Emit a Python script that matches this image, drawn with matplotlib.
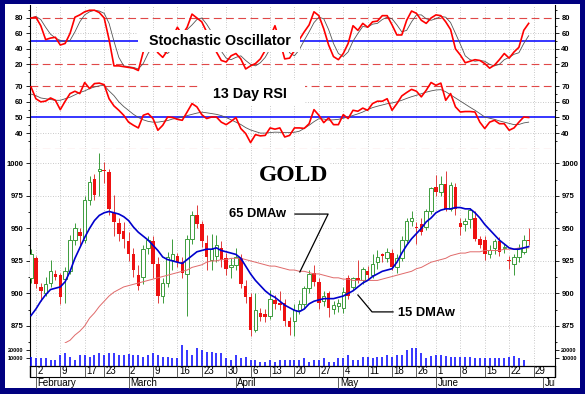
import numpy as np
import pandas as pd
import matplotlib
matplotlib.use("Agg")
import matplotlib.pyplot as plt
from matplotlib.patches import Rectangle

plt.rcParams['font.family'] = ['Liberation Sans', 'DejaVu Sans']

# trading calendar (COMEX 2009)
holidays = ['2009-02-16', '2009-04-10', '2009-05-25']
days = pd.bdate_range('2009-01-30', '2009-07-02')
days = days[~days.isin(pd.to_datetime(holidays))]

# daily gold candles, Jan 30 - Jun 26
opens = [912, 927, 905, 900, 908, 915, 914, 911, 917, 941,
         947, 941, 972, 988, 994, 995, 993, 962, 954, 948,
         940, 930, 914, 913, 935, 940, 923, 898, 908, 926,
         929, 924, 915, 942, 960, 953, 939, 926, 929, 935,
         927, 920, 922, 927, 906, 897, 872, 885, 884, 883,
         895, 893, 893, 879, 879, 887, 892, 904, 916, 909,
         894, 900, 888, 890, 889, 912, 905, 912, 910, 917,
         914, 924, 930, 927, 931, 920, 927, 941, 956, 951,
         953, 951, 963, 982, 978, 984, 965, 982, 954, 953,
         957, 958, 942, 941, 930, 935, 940, 935, 926, 923,
         928, 932, 941]
highs = [934, 929, 908, 913, 926, 918, 916, 920, 945, 954,
         950, 975, 990, 992, 1008, 1001, 996, 976, 958, 955,
         947, 935, 922, 937, 944, 944, 928, 912, 932, 942,
         931, 928, 945, 963, 968, 956, 945, 946, 945, 940,
         931, 927, 935, 930, 910, 900, 900, 889, 888, 903,
         899, 902, 896, 882, 892, 895, 906, 918, 922, 912,
         902, 902, 894, 896, 905, 914, 913, 926, 920, 921,
         930, 933, 931, 935, 934, 930, 944, 958, 963, 955,
         958, 965, 982, 991, 990, 994, 986, 985, 958, 958,
         966, 963, 944, 944, 937, 942, 943, 938, 929, 930,
         938, 945, 950]
lows = [908, 904, 894, 898, 905, 910, 892, 893, 915, 937,
        937, 939, 968, 972, 975, 985, 960, 944, 940, 935,
        925, 913, 903, 907, 930, 912, 893, 893, 905, 918,
        920, 912, 883, 938, 950, 936, 918, 918, 924, 920,
        914, 912, 918, 904, 893, 867, 870, 879, 878, 880,
        888, 887, 875, 868, 867, 884, 889, 900, 906, 888,
        890, 882, 884, 886, 885, 896, 903, 908, 907, 911,
        912, 919, 924, 924, 918, 916, 925, 939, 952, 938,
        945, 949, 961, 975, 975, 963, 963, 960, 945, 948,
        950, 940, 935, 926, 927, 930, 929, 931, 919, 914,
        924, 930, 937]
closes = [930, 907, 902, 907, 917, 913, 897, 917, 941, 950,
          944, 972, 986, 976, 996, 994, 965, 955, 946, 942,
          930, 918, 906, 934, 941, 923, 898, 908, 928, 930,
          924, 916, 942, 960, 953, 940, 928, 934, 937, 926,
          919, 922, 928, 907, 897, 872, 887, 882, 882, 896,
          892, 891, 879, 874, 887, 892, 904, 915, 909, 893,
          898, 889, 891, 893, 901, 898, 912, 910, 919, 914,
          923, 928, 929, 932, 920, 927, 941, 956, 958, 950,
          947, 963, 981, 978, 984, 965, 983, 965, 951, 956,
          964, 942, 937, 930, 933, 940, 932, 936, 925, 928,
          935, 941, 940]
volume = [11.6, 9.5, 9.5, 9.5, 7.2, 7.2, 13.8, 16, 11.6, 7.2,
          13.8, 13.8, 11.6, 13.8, 16, 13.8, 16, 16, 13.8, 13.8,
          14.7, 13.8, 13.8, 11.6, 13.8, 16, 13.8, 11.6, 11.6, 9.5,
          9.5, 27, 20.4, 13.8, 22.6, 20.4, 18.2, 18.2, 16, 16,
          9.5, 7.2, 13.8, 9.5, 11.6, 7.2, 7.2, 5, 5, 7.2,
          5, 7.2, 7.2, 7.2, 7.2, 7.2, 9.5, 5, 7.2, 7.2,
          9.5, 5, 5, 9.5, 9.5, 13.8, 7.2, 7.2, 11.6, 11.6,
          9.5, 11.6, 11.6, 13.8, 11.6, 13.8, 13.8, 20.4, 23.4, 23.4,
          16, 9.5, 12.9, 13.8, 13.8, 12.9, 11.6, 11.6, 11.6, 11.6,
          11.6, 9.5, 9.5, 9.5, 10.3, 9.5, 10.3, 9.5, 11, 12.9,
          9.5, 7.2, 0]  # thousands of contracts

dma15 = [883, 888, 894, 899, 903, 904, 905, 909, 917, 927,
         935, 943, 950, 956, 960, 962, 963, 962, 961, 959,
         956, 951, 947, 944, 941, 937, 933, 928, 926, 925,
         924, 923, 926, 929, 932, 933, 934, 934, 935, 933,
         932, 931, 930, 927, 921, 915, 910, 906, 902, 899,
         897, 894, 891, 889, 887, 886, 888, 892, 894, 895,
         896, 896, 896, 897, 898, 900, 902, 905, 908, 910,
         913, 915, 917, 918, 919, 924, 931, 937, 942, 946,
         950, 955, 958, 962, 964, 965, 965, 966, 966, 965,
         965, 962, 958, 953, 949, 945, 941, 938, 935, 934,
         934, 935, 936]
dma65 = [np.nan] * 7 + [
         862, 864, 868,
         871, 875, 881, 885, 890, 894, 898, 901, 903, 905,
         906, 907, 908, 909, 910, 911, 912, 913, 914, 915,
         916, 917, 918, 920, 921, 922, 924, 925, 925, 926,
         926, 927, 927, 927, 926, 925, 924, 923, 922, 921,
         921, 920, 919, 918, 918, 917, 917, 916, 915, 915,
         914, 913, 912, 912, 911, 911, 910, 910, 910, 910,
         910, 910, 911, 912, 913, 914, 915, 916, 917, 919,
         920, 922, 924, 925, 926, 927, 929, 930, 931, 931,
         932, 932, 932, 933, 933, 933, 933, 934, 934, 934,
         935, 935, 935]

stoch_k = [80, 81, 70, 52, 54, 55, 45, 47, 60, 81,
           84, 88, 90, 90, 87, 80, 52, 18, 18, 17,
           16, 15, 12, 36, 52, 45, 35, 29, 38, 55,
           68, 58, 68, 85, 80, 75, 62, 50, 36, 25,
           23, 31, 34, 27, 14, 18, 21, 27, 38, 55,
           70, 50, 27, 28, 38, 52, 62, 71, 88, 83,
           66, 45, 30, 26, 34, 47, 70, 64, 73, 68,
           75, 76, 83, 83, 71, 58, 58, 77, 89, 86,
           77, 73, 80, 84, 83, 75, 65, 40, 32, 22,
           24, 26, 25, 21, 15, 19, 26, 34, 28, 36,
           42, 64, 73]
stoch_d = [80, 82, 78, 68, 59, 54, 51, 49, 51, 62,
           75, 84, 88, 90, 89, 86, 73, 50, 29, 18,
           17, 16, 14, 21, 34, 44, 44, 37, 34, 40,
           54, 60, 65, 71, 78, 80, 72, 62, 49, 37,
           28, 26, 29, 31, 25, 20, 18, 22, 29, 40,
           54, 58, 49, 35, 31, 39, 51, 62, 74, 81,
           79, 65, 47, 34, 30, 36, 50, 60, 69, 68,
           72, 73, 78, 81, 79, 71, 62, 64, 75, 84,
           84, 79, 77, 79, 82, 81, 74, 60, 46, 31,
           26, 24, 25, 24, 20, 18, 20, 26, 29, 33,
           35, 47, 57]

rsi = [69.6, 62, 60, 60.5, 62.5, 61, 55, 60.4, 65.3, 66.8,
       65.3, 72.4, 68.5, 71.7, 72, 71, 62, 57.4, 54.6, 51.4,
       47, 45, 43.3, 51.4, 52.5, 49.3, 41.8, 45, 50.3, 50,
       48.8, 48.2, 53.5, 58.9, 56.8, 51.8, 49.3, 50.3, 50.3, 47,
       45.4, 47.5, 49.9, 42.9, 39.7, 33.9, 39, 38.2, 38.5, 43.3,
       42.5, 43.3, 37.5, 38.5, 43.3, 43.3, 43, 46, 55, 51.4,
       46.7, 49.7, 45.4, 45.4, 51.8, 49.3, 54.6, 54, 56, 54.6,
       58.9, 60.4, 60.4, 62, 54.6, 58.9, 63.8, 66, 68, 66.8,
       63.2, 67.4, 72.4, 70.6, 72, 61, 65.3, 56.8, 53.5, 53.8,
       53.8, 53.5, 47, 42.9, 47, 48.2, 46, 46, 41.8, 43.3,
       47, 50.3, 50]
rsi_avg = [65, 64, 62.5, 62, 61.5, 61, 61, 62, 63, 64.5,
           66, 67, 68.5, 69.5, 70.3, 70.5, 67, 64, 60, 57,
           54.5, 52, 50, 48.5, 47.5, 47, 47, 47.5, 48, 49,
           49.5, 50.3, 51.2, 52, 52.8, 53.4, 53, 52.5, 52, 51.2,
           50, 48.5, 47, 45.5, 43.5, 42, 41, 40, 40, 40.3,
           40.6, 40.5, 40.3, 40.3, 40.5, 41.2, 43, 45, 47.3, 49.2,
           49, 48.3, 48.5, 48.8, 49.5, 50.3, 51.3, 52.3, 53.5, 55,
           56.3, 57.2, 58, 58.8, 59.3, 60, 61, 62.2, 63.3, 64.2,
           65.2, 66.2, 67, 67.6, 67.8, 66.5, 64.5, 62.5, 60.5, 58.5,
           56.5, 54.6, 52.5, 50.3, 49.5, 48.8, 47.8, 47, 46.2, 45.4,
           45.5, 46.5, 47]

month_names = ['February', 'March', 'April', 'May', 'June', 'July']

# ---- layout (pixels of a 585x394 image) ----
W, H = 585, 394
X0, X1 = 29.5, 555
XMIN, XMAX = -0.31, 107.4
GREEN = '#3c9c3c'
RED = '#ee1111'
GRID = '#b8b8b8'

x = np.arange(len(closes))
o, h, l, c = map(np.array, (opens, highs, lows, closes))
week_idx = [i for i in range(1, len(days)) if days[i].weekday() < days[i - 1].weekday()]
month_idx = [i for i in range(1, len(days)) if days[i].month != days[i - 1].month]

fig = plt.figure(figsize=(W / 100, H / 100), dpi=100)
fig.patch.set_facecolor('#000080')
fig.add_artist(Rectangle((5 / W, 1 - 388 / H), 575 / W, 384 / H, transform=fig.transFigure,
                         facecolor='white', edgecolor='none', zorder=-1))


def panel(top, bottom, ylim):
    ax = fig.add_axes([X0 / W, 1 - bottom / H, (X1 - X0) / W, (bottom - top) / H])
    ax.set_xlim(XMIN, XMAX)
    ax.set_ylim(*ylim)
    ax.spines['top'].set_visible(False)
    ax.spines['bottom'].set_visible(False)
    ax.set_xticks([])
    return ax


def style_y(ax, ticks, labels, minor, size=5.5):
    ax.set_yticks(ticks, labels=labels, fontsize=size, fontweight='bold')
    ax.set_yticks(minor, minor=True)
    ax.tick_params(axis='y', which='both', left=True, right=True, labelleft=True,
                   labelright=True, direction='out', pad=1.5, width=0.6)
    ax.tick_params(axis='y', which='major', length=3)
    ax.tick_params(axis='y', which='minor', length=1.6)
    for xi in week_idx:
        ax.axvline(xi, color=GRID, lw=0.6, ls=(0, (1, 2)), zorder=0.5)


# stochastic
ax_s = panel(5, 80, (-0.3, 96.8))
style_y(ax_s, [20, 40, 60, 80], ['20', '40', '60', '80'], [10, 30, 50, 70, 90])
for y in [40, 60]:
    ax_s.axhline(y, color=GRID, lw=0.6, ls=(0, (1, 2)), zorder=0.5)
for y in [20, 80]:
    ax_s.axhline(y, color='#e04848', lw=0.8, dashes=(7, 4), zorder=1)
ax_s.axhline(50, color='#0000ff', lw=1.1, zorder=1.5)
ax_s.plot(x, stoch_d, color='#555555', lw=0.6, zorder=3)
ax_s.plot(x, stoch_k, color='#ff0000', lw=1.2, zorder=4)
ax_s.add_patch(Rectangle((21.9, 36), 33.2, 28.5, facecolor='white', edgecolor='none', zorder=6))
ax_s.text(38.7, 45.4, 'Stochastic Oscillator', fontsize=10.3, fontweight='bold',
          ha='center', va='baseline', zorder=7)

# RSI
ax_r = panel(80, 149, (29.8, 74))
style_y(ax_r, [40, 50, 60, 70], ['40', '50', '60', '70'], [35, 45, 55, 65])
for y in [40, 60]:
    ax_r.axhline(y, color=GRID, lw=0.6, ls=(0, (1, 2)), zorder=0.5)
for y in [30, 70]:
    ax_r.axhline(y, color='#e04848', lw=0.8, dashes=(7, 4), zorder=1, clip_on=False)
ax_r.axhline(50, color='#0000ff', lw=1.1, zorder=1.5)
ax_r.plot(x, rsi_avg, color='#555555', lw=0.6, zorder=3)
ax_r.plot(x, rsi, color='#ff0000', lw=1.2, zorder=4)
ax_r.add_patch(Rectangle((34.6, 58), 21.5, 16.5, facecolor='white', edgecolor='none', zorder=6))
ax_r.text(44.8, 62.5, '13 Day RSI', fontsize=10.3, fontweight='bold',
          ha='center', va='baseline', zorder=7)

# price
ax_p = panel(149, 343, (861.9, 1011))
pt = [875, 900, 925, 950, 975, 1000]
style_y(ax_p, pt, [str(v) for v in pt], [862.5, 887.5, 912.5, 937.5, 962.5, 987.5])
for y in pt:
    ax_p.axhline(y, color=GRID, lw=0.6, ls=(0, (1, 2)), zorder=0.5)
up = c >= o
ax_p.vlines(x, l, h, colors=np.where(up, GREEN, '#e03c3c'), lw=0.7, zorder=3)
ax_p.bar(x[up], np.maximum(c[up] - o[up], 0.8), bottom=o[up], width=0.72,
         facecolor='white', edgecolor=GREEN, lw=0.7, zorder=4)
ax_p.bar(x[~up], np.maximum(o[~up] - c[~up], 0.8), bottom=c[~up], width=0.72,
         color=RED, lw=0, zorder=4)
ax_p.plot(x, dma65, color='#e06a6a', lw=0.7, zorder=4.5)
ax_p.plot(x, dma15, color='#0000cc', lw=1.2, zorder=5)

ax_p.text(53.8, 986.6, 'GOLD', fontfamily='Liberation Serif', fontweight='bold', fontsize=17,
          ha='center', va='baseline', zorder=7,
          bbox=dict(facecolor='white', edgecolor='none', pad=1))
ax_p.text(46.5, 958.5, '65 DMAw', fontsize=9.3, fontweight='bold', ha='center', va='baseline',
          zorder=7, bbox=dict(facecolor='white', edgecolor='none', pad=1))
ax_p.text(81.0, 882.9, '15 DMAw', fontsize=9.3, fontweight='bold', ha='center', va='baseline',
          zorder=7, bbox=dict(facecolor='white', edgecolor='none', pad=1))
ax_p.plot([54.1, 60.9, 55.1], [961.0, 961.0, 916.5], color='black', lw=0.9, zorder=6)
ax_p.plot([74.2, 69.9, 67.0], [885.8, 885.8, 898.8], color='black', lw=0.9, zorder=6)

# volume
ax_v = panel(343, 365.5, (0, 29.6))
ax_v.spines['bottom'].set_visible(True)
ax_v.spines['bottom'].set_linewidth(0.9)
style_y(ax_v, [10, 20], ['10000', '20000'], [], size=4)
ax_v.vlines(x, 0, volume, color='#0000ff', lw=1.1, zorder=3)

# date rows
ax_d = fig.add_axes([X0 / W, 1 - 389 / H, (X1 - X0) / W, 23.5 / H])
ax_d.set_xlim(XMIN, XMAX)
ax_d.set_ylim(0, 1)
ax_d.axis('off')
ax_d.plot([XMIN, XMAX], [0.51, 0.51], color='black', lw=0.8, clip_on=False)
ax_d.vlines([XMIN, XMAX], 0.51, 1, color='black', lw=1.0, clip_on=False)
ax_d.vlines(week_idx, 0.51, 1, color='#444444', lw=0.6)
ax_d.vlines(month_idx, 0, 0.51, color='#444444', lw=0.6)
for i in week_idx:
    ax_d.text(i + 0.3, 0.77, str(days[i].day), fontsize=7, ha='left', va='center')
for i, name in zip(month_idx, month_names):
    ax_d.text(i + 0.3, 0.24, name, fontsize=7, ha='left', va='center', clip_on=True)

fig.savefig('out.png', dpi=100)
